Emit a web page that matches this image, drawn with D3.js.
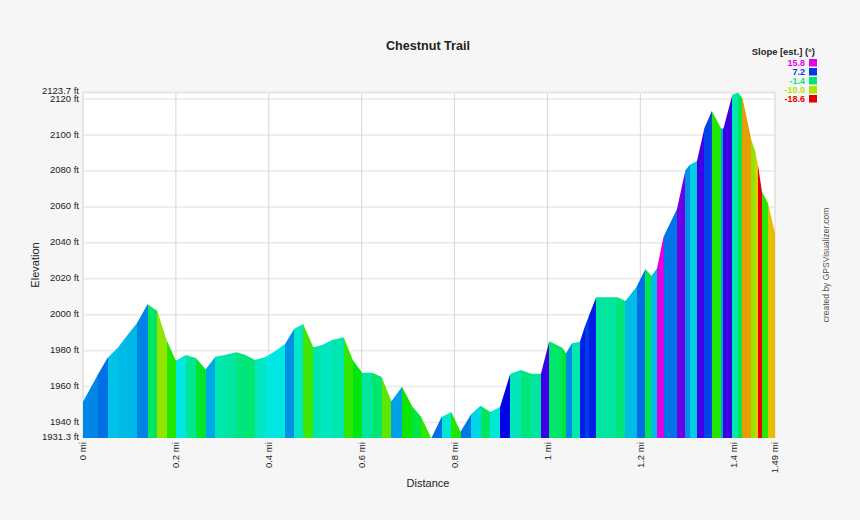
<!DOCTYPE html>
<html>
<head>
<meta charset="utf-8">
<script src="https://cdn.jsdelivr.net/npm/d3@7"></script>
<style>
  html, body { margin: 0; padding: 0; background: #f6f6f6; }
  text { font-family: "Liberation Sans", Arial, sans-serif; fill: #222; }
</style>
</head>
<body>
<svg id="chart" width="860" height="520"></svg>
<script>
const miles = [
  0, 0.033, 0.053, 0.075, 0.095, 0.116, 0.139, 0.160, 0.180, 0.200,
  0.221, 0.243, 0.264, 0.285, 0.307, 0.330, 0.350, 0.370, 0.392, 0.414,
  0.435, 0.455, 0.474, 0.496, 0.515, 0.536, 0.561, 0.581, 0.601, 0.623,
  0.643, 0.664, 0.687, 0.709, 0.728, 0.750, 0.772, 0.793, 0.813, 0.836,
  0.856, 0.877, 0.898, 0.920, 0.943, 0.965, 0.986, 1.004, 1.032, 1.040,
  1.053, 1.070, 1.080, 1.090, 1.105, 1.126, 1.148, 1.154, 1.168, 1.192,
  1.211, 1.224, 1.236, 1.250, 1.279, 1.297, 1.306, 1.322, 1.338, 1.354,
  1.374, 1.379, 1.398, 1.410, 1.420, 1.439, 1.448, 1.454, 1.462, 1.475,
  1.490
];
const elevation = [
  1951.6, 1967.1, 1976.1, 1981.6, 1988.4, 1995.2, 2005.8, 2002.1, 1985.9, 1974.4,
  1977.6, 1975.9, 1969.6, 1976.6, 1977.7, 1979.1, 1977.6, 1974.8, 1976.3, 1979.8,
  1983.7, 1992.2, 1994.8, 1981.9, 1983.1, 1985.9, 1987.4, 1974.8, 1967.7, 1967.7,
  1965.3, 1951.8, 1959.9, 1949, 1943.3, 1931.3, 1943.1, 1945.9, 1934.9, 1944.8,
  1949.4, 1945.9, 1948.7, 1967.2, 1969.2, 1967.2, 1967.2, 1985.2, 1981.6, 1978.5,
  1984.1, 1985, 1993, 1999.8, 2009.7, 2009.7, 2009.7, 2009.4, 2007.6, 2015.6,
  2025.4, 2021.5, 2025.8, 2043.4, 2058.8, 2080.2, 2083.3, 2085.5, 2103.9, 2113.3,
  2103.6, 2103.6, 2122.2, 2123.7, 2120.4, 2097.2, 2090.5, 2082.2, 2068.4, 2062,
  2045.3
];
// slope of the stretch that ends at the matching point, so one less than miles
const slopes = [
  4.9, 5.6, 3.1, 3.3, 3.4, 5.0, -1.9, -9.2, -5.8, 1.9,
  -0.5, -3.5, 3.9, 0.4, 0, -1.1, -1.5, 0.9, 1.9, 1.9,
  4.6, 1.1, -6.8, 0.4, 0.9, 0.4, -6.3, -4.3, 0, -1.5,
  -7.6, 4.1, -5.3, -2.9, -6.3, 5.6, 1.6, -5.8, 5.4, 2.5,
  -2, 1.6, 8.9, 0.7, -1.1, 0, 10.7, -1.7, -3.2, 4.8,
  0.4, 8, 7.1, 8, 0, 0, -1.5, -1.1, 3.3, 5.6,
  -2.5, 3.3, 15.6, 5.4, 12.2, 4.6, 2.8, 10.9, 6.9, -5.8,
  3.9, 10.7, 0.4, -2.5, -13.9, -9, -12.6, -18.6, -6, -12.9
];
const xTicks = [0, 0.2, 0.4, 0.6, 0.8, 1, 1.2, 1.4, 1.49];
const yTicks = [1931.3, 1940, 1960, 1980, 2000, 2020, 2040, 2060, 2080, 2100, 2120, 2123.7];
const legendValues = [15.8, 7.2, -1.4, -10.0, -18.6];

const svg = d3.select("#chart");

const x = d3.scaleLinear().domain([0, 1.49]).range([83, 775]);
const y = d3.scaleLinear().domain([1931.3, 2123.7]).range([438.2, 92.4]);
const hue = d3.scaleLinear().domain([-18.6, 15.8]).range([0, 300]);
const slopeColor = (s) => d3.hsl(hue(s), 1, 0.45).formatHex();

// plot background
svg.append("rect")
  .attr("x", x(0)).attr("y", y(2123.7))
  .attr("width", x(1.49) - x(0)).attr("height", y(1931.3) - y(2123.7))
  .attr("fill", "#fff");

// grid
svg.append("g").selectAll("line")
  .data(yTicks.slice(1, -1))
  .join("line")
  .attr("x1", x(0)).attr("x2", x(1.49))
  .attr("y1", (d) => y(d)).attr("y2", (d) => y(d))
  .attr("stroke", "#e9e9e9").attr("stroke-width", 1.5);

svg.append("g").selectAll("line")
  .data(xTicks.slice(1, -1))
  .join("line")
  .attr("x1", (d) => x(d)).attr("x2", (d) => x(d))
  .attr("y1", y(1931.3)).attr("y2", y(2123.7))
  .attr("stroke", "#d6d6d6").attr("stroke-width", 1);

// border of the plot, no line along the bottom
svg.append("path")
  .attr("d", `M${x(0)},${y(1931.3)}V${y(2123.7)}H${x(1.49)}V${y(1931.3)}`)
  .attr("fill", "none").attr("stroke", "#e6e6e6").attr("stroke-width", 2);

// profile: coloured bands clipped to the elevation area so no seams show
const area = d3.area()
  .x((d, i) => x(miles[i]))
  .y0(y(1931.3))
  .y1((d) => y(d));

svg.append("clipPath").attr("id", "profile")
  .append("path").attr("d", area(elevation));

svg.append("g").attr("clip-path", "url(#profile)")
  .selectAll("rect")
  .data(slopes)
  .join("rect")
  .attr("x", (d, i) => x(miles[i]))
  .attr("width", (d, i) => x(miles[i + 1]) - x(miles[i]))
  .attr("y", y(2123.7))
  .attr("height", y(1931.3) - y(2123.7))
  .attr("fill", (d) => slopeColor(d))
  .attr("shape-rendering", "crispEdges");

// axes
const yAxis = d3.axisLeft(y)
  .tickValues(yTicks)
  .tickSize(0)
  .tickPadding(4)
  .tickFormat((d) => d + " ft");

const yG = svg.append("g").attr("transform", `translate(${x(0)},0)`).call(yAxis);
yG.select(".domain").remove();
yG.attr("font-family", null);
yG.selectAll("text")
  .style("font-size", "9.5px")
  .attr("fill", "#222")
  .attr("y", -1);
// the two end labels sit a little clear of their neighbours
yG.selectAll("text").filter((d) => d === 1931.3 || d === 2123.7).attr("y", -2);

const xAxis = d3.axisBottom(x)
  .tickValues(xTicks)
  .tickSize(0)
  .tickFormat((d) => d + " mi");

const xG = svg.append("g").attr("transform", `translate(0,${y(1931.3)})`).call(xAxis);
xG.select(".domain").remove();
xG.attr("font-family", null);
xG.selectAll("text")
  .style("font-size", "9.5px")
  .attr("fill", "#222")
  .attr("text-anchor", "end")
  .attr("transform", "rotate(-90)")
  .attr("x", -4).attr("y", -0.5).attr("dy", "0.35em");

// titles
svg.append("text").attr("x", 428).attr("y", 50).attr("text-anchor", "middle")
  .style("font-size", "12.6px").style("font-weight", "bold").text("Chestnut Trail");

svg.append("text").attr("x", 428).attr("y", 487).attr("text-anchor", "middle")
  .style("font-size", "11px").text("Distance");

svg.append("text").attr("transform", "translate(39,265) rotate(-90)").attr("text-anchor", "middle")
  .style("font-size", "11px").text("Elevation");

// credit
svg.append("rect").attr("x", 821).attr("y", 208).attr("width", 10).attr("height", 114).attr("fill", "#fbfbfb");
svg.append("text").attr("transform", "translate(829,265) rotate(-90)").attr("text-anchor", "middle")
  .style("font-size", "8.5px").style("fill", "#555").text("created by GPSVisualizer.com");

// legend
svg.append("text").attr("x", 815).attr("y", 55).attr("text-anchor", "end")
  .style("font-size", "9.4px").style("font-weight", "bold").text("Slope [est.] (°)");

const legendRow = d3.scaleBand().domain(legendValues).range([59, 104]);
const legend = svg.append("g").selectAll("g")
  .data(legendValues)
  .join("g")
  .attr("transform", (d) => `translate(0,${legendRow(d)})`);

legend.append("rect")
  .attr("x", 809).attr("width", 8).attr("height", 7.5)
  .attr("fill", (d) => slopeColor(d));

legend.append("text")
  .attr("x", 805).attr("y", 7).attr("text-anchor", "end")
  .style("font-size", "9px").style("font-weight", "bold")
  .style("fill", (d) => slopeColor(d))
  .text((d) => d.toFixed(1));
</script>
</body>
</html>
